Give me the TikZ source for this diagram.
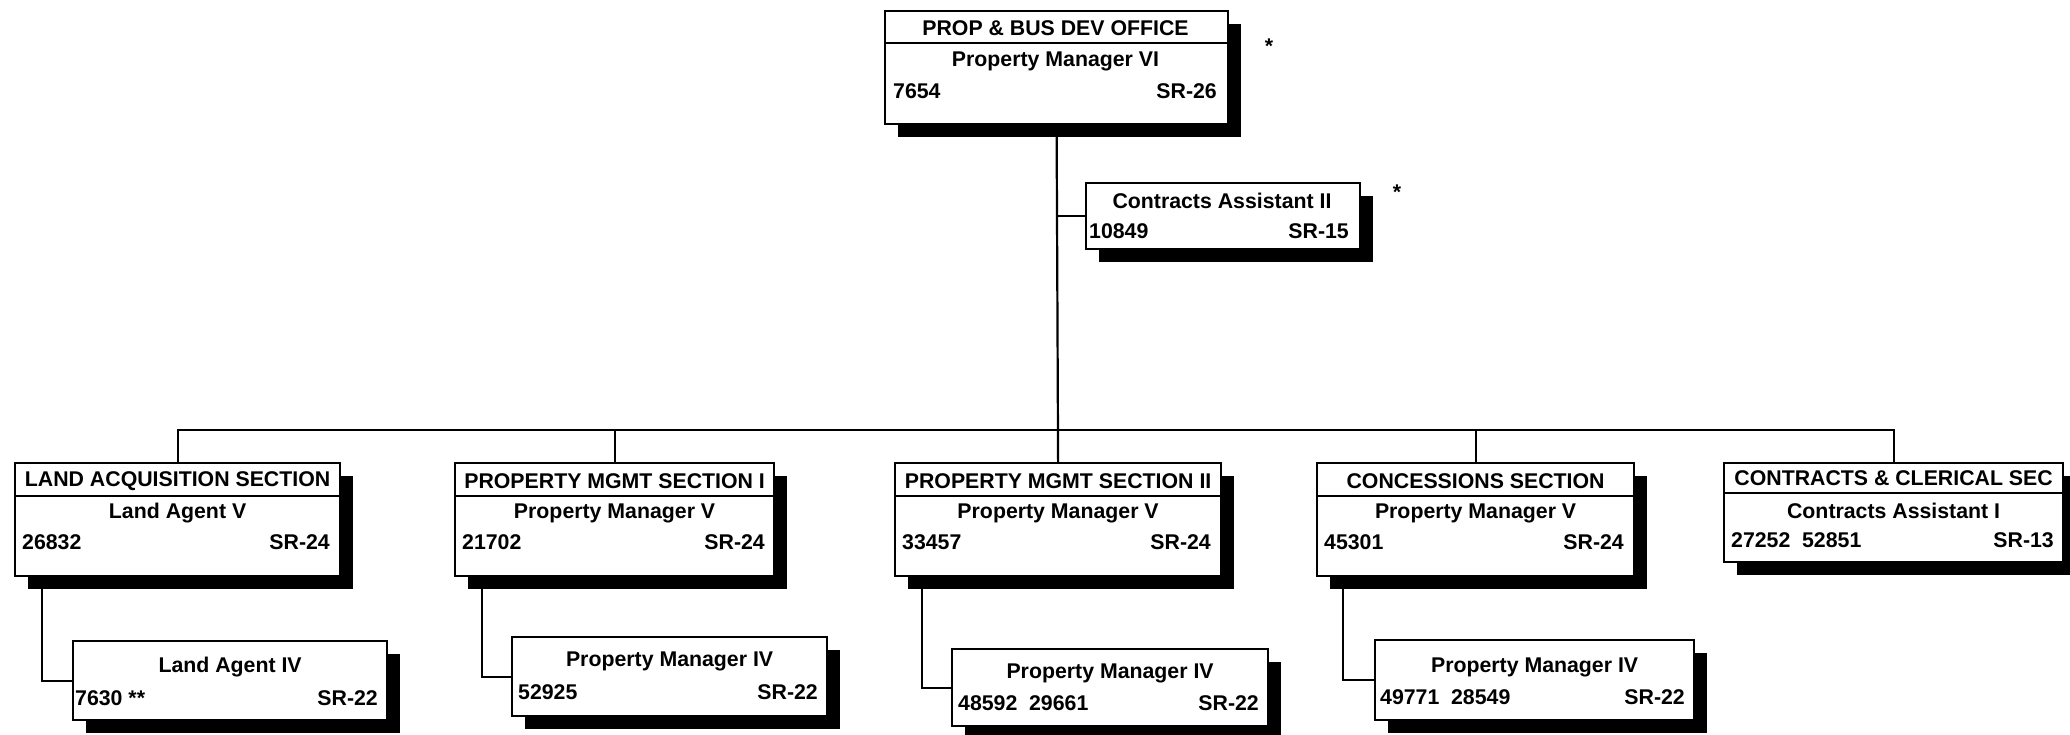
\documentclass[tikz,border=0pt]{standalone}
\usepackage{fontspec}
\setmainfont{Liberation Sans}
\usetikzlibrary{shadows}
\begin{document}
\begin{tikzpicture}[x=1pt,y=-1pt,
  box/.style={draw=black,line width=2.2pt,fill=white,rectangle,inner sep=0pt,anchor=north west,
    general shadow={fill=black,shadow xshift=13pt,shadow yshift=-13pt}},
  txt/.style={inner sep=0pt,font=\fontsize{21.3}{23}\selectfont\bfseries},
  link/.style={line width=2.2pt},
]
\useasboundingbox (0,0) rectangle (2070,734);
\newcommand{\bx}[5]{% name, left, top, right, bottom
  \node[box,minimum width=#4-#2,minimum height=#5-#3] (#1) at (#2,#3) {};}
% top box
\bx{top}{884}{10}{1227}{123}
\draw[link] (top.north west) ++(0,33) coordinate (tdl) -- (tdl -| top.east);
\node[txt] (toph) at (1055.5,28) {PROP \& BUS DEV OFFICE};
\node[txt] (topt) at (1055.5,61) {Property Manager VI};
\node[txt,anchor=west] (topn) at (893,91) {7654};
\node[txt,anchor=east] (topg) at (1217,91) {SR-26};
\node[txt] (ast1) at (1269,46) {*};
% contracts assistant II
\bx{ca}{1085}{182}{1359}{248}
\node[txt] (cat) at (1222,201) {Contracts Assistant II};
\node[txt,anchor=west] (can) at (1089,231) {10849};
\node[txt,anchor=east] (cag) at (1349,231) {SR-15};
\node[txt] (ast2) at (1397,192) {*};
% section boxes
\bx{b1}{14}{462}{339}{575}
\bx{b2}{454}{462}{773}{575}
\bx{b3}{894}{462}{1220}{575}
\bx{b4}{1316}{462}{1633}{575}
\bx{b5}{1723}{462}{2062}{561}
\foreach \b/\d in {b1/34,b2/34,b3/34,b4/34,b5/31}{
  \draw[link] (\b.north west) ++(0,\d) coordinate (\b dl) -- (\b dl -| \b.east);
}
\node[txt] (b1h) at (b1.north |- 0,481) {LAND ACQUISITION SECTION};
\node[txt] (b1t) at (b1.north |- 0,513) {Land Agent V};
\node[txt,anchor=west] (b1n) at (22,542) {26832};
\node[txt,anchor=east] (b1g) at (330,542) {SR-24};
\node[txt] (b2h) at (b2.north |- 0,481) {PROPERTY MGMT SECTION I};
\node[txt] (b2t) at (b2.north |- 0,513) {Property Manager V};
\node[txt,anchor=west] (b2n) at (462,542) {21702};
\node[txt,anchor=east] (b2g) at (765,542) {SR-24};
\node[txt] (b3h) at (b3.north |- 0,481) {PROPERTY MGMT SECTION II};
\node[txt] (b3t) at (b3.north |- 0,513) {Property Manager V};
\node[txt,anchor=west] (b3n) at (902,542) {33457};
\node[txt,anchor=east] (b3g) at (1211,542) {SR-24};
\node[txt] (b4h) at (b4.north |- 0,481) {CONCESSIONS SECTION};
\node[txt] (b4t) at (b4.north |- 0,513) {Property Manager V};
\node[txt,anchor=west] (b4n) at (1324,542) {45301};
\node[txt,anchor=east] (b4g) at (1624,542) {SR-24};
\node[txt] (b5h) at (b5.north |- 0,478) {CONTRACTS \& CLERICAL SEC};
\node[txt] (b5t) at (b5.north |- 0,511) {Contracts Assistant I};
\node[txt,anchor=west] (b5n) at (1731,540) {27252\hspace{0.55em}52851};
\node[txt,anchor=east] (b5g) at (2054,540) {SR-13};
% sub boxes
\bx{s1}{72}{640}{386}{719}
\bx{s2}{511}{636}{826}{715}
\bx{s3}{951}{648}{1267}{725}
\bx{s4}{1374}{639}{1693}{719}
\node[txt] (s1t) at (s1.north |- 0,667) {Land Agent IV};
\node[txt,anchor=west] (s1n) at (75,698) {7630 **};
\node[txt,anchor=east] (s1g) at (378,698) {SR-22};
\node[txt] (s2t) at (s2.north |- 0,661) {Property Manager IV};
\node[txt,anchor=west] (s2n) at (518,692) {52925};
\node[txt,anchor=east] (s2g) at (818,692) {SR-22};
\node[txt] (s3t) at (s3.north |- 0,673) {Property Manager IV};
\node[txt,anchor=west] (s3n) at (958,703) {48592\hspace{0.55em}29661};
\node[txt,anchor=east] (s3g) at (1259,703) {SR-22};
\node[txt] (s4t) at (s4.north |- 0,667) {Property Manager IV};
\node[txt,anchor=west] (s4n) at (1380,697) {49771\hspace{0.55em}28549};
\node[txt,anchor=east] (s4g) at (1685,697) {SR-22};
% connectors
\coordinate (bus) at (1056,430);
\draw[link] (top.south) -- (b3.north);
\draw[link] (ca.west) -- (ca.west -| top.south);
\draw[link] (b1.north) -- (b1.north |- bus) -- (b5.north |- bus) -- (b5.north);
\draw[link] (b2.north) -- (b2.north |- bus);
\draw[link] (b4.north) -- (b4.north |- bus);
\draw[link] ([xshift=28pt]b1.south west) |- (s1.west);
\draw[link] ([xshift=28pt]b2.south west) |- (s2.west);
\draw[link] ([xshift=28pt]b3.south west) |- (s3.west);
\draw[link] ([xshift=27pt]b4.south west) |- (s4.west);
\end{tikzpicture}
\end{document}
